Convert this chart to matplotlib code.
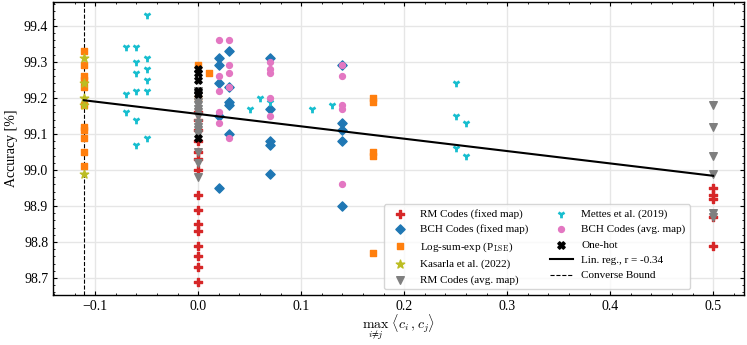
#!/usr/bin/env python3
# -*- coding: utf-8 -*-

import numpy as np
import matplotlib
matplotlib.use('Agg')
from matplotlib import pyplot as plt

# --- data ---
rm_fixed_x = [0, 0, 0, 0, 0, 0, 0, 0, 0, 0, 0, 0, 0, 0, 0, 0.5, 0.5, 0.5, 0.5, 0.5]
rm_fixed_y = [99.16, 99.14, 99.11, 99.08, 99.05, 99.03, 99.00, 98.93, 98.89, 98.85, 98.83, 98.79, 98.76, 98.73, 98.69,
              98.95, 98.93, 98.92, 98.87, 98.79]

bch_fixed_x = [0.02, 0.02, 0.02, 0.02, 0.02, 0.03, 0.03, 0.03, 0.03, 0.03,
               0.07, 0.07, 0.07, 0.07, 0.07, 0.14, 0.14, 0.14, 0.14, 0.14]
bch_fixed_y = [99.31, 99.29, 99.24, 99.15, 98.95, 99.33, 99.23, 99.19, 99.18, 99.10,
               99.31, 99.17, 99.08, 99.07, 98.99, 99.29, 99.13, 99.11, 99.08, 98.90]

lse_x = [-1/9, -1/9, -1/9, -1/9, -1/9, -1/9, -1/9, -1/9, -1/9, -1/9, -1/9,
         0, 0, 0.01, 0.17, 0.17, 0.17, 0.17, 0.17]
lse_y = [99.33, 99.29, 99.26, 99.25, 99.23, 99.18, 99.12, 99.11, 99.09, 99.05, 99.01,
         99.29, 99.20, 99.27, 99.20, 99.19, 99.05, 99.04, 98.77]

kasarla_x = [-1/9, -1/9, -1/9, -1/9, -1/9]
kasarla_y = [99.31, 99.24, 99.20, 99.18, 98.99]

rm_avg_x = [0, 0, 0, 0, 0, 0, 0, 0, 0, 0, 0, 0, 0, 0, 0.5, 0.5, 0.5, 0.5, 0.5, 0.5]
rm_avg_y = [99.22, 99.21, 99.19, 99.18, 99.17, 99.16, 99.15, 99.13, 99.12, 99.11, 99.10, 99.05, 99.02, 98.98,
            99.18, 99.12, 99.04, 98.99, 98.88, 98.87]

mettes_x = [-0.05, -0.07, -0.06, -0.06, -0.05, -0.06, -0.05, -0.05, -0.07, -0.06, -0.05, -0.07, -0.06, -0.05, -0.06,
            0.06, 0.05, 0.07, 0.11, 0.13, 0.25, 0.25, 0.26, 0.25, 0.26]
mettes_y = [99.43, 99.34, 99.34, 99.30, 99.31, 99.27, 99.28, 99.25, 99.21, 99.22, 99.22, 99.16, 99.14, 99.09, 99.07,
            99.20, 99.17, 99.19, 99.17, 99.18, 99.24, 99.15, 99.13, 99.06, 99.04]

bch_avg_x = [0.02, 0.02, 0.02, 0.02, 0.02, 0.03, 0.03, 0.03, 0.03, 0.03,
             0.07, 0.07, 0.07, 0.07, 0.07, 0.14, 0.14, 0.14, 0.14, 0.14]
bch_avg_y = [99.36, 99.26, 99.22, 99.16, 99.13, 99.36, 99.29, 99.27, 99.23, 99.09,
             99.30, 99.28, 99.27, 99.20, 99.15, 99.29, 99.26, 99.18, 99.17, 98.96]

onehot_x = [0, 0, 0, 0, 0, 0]
onehot_y = [99.28, 99.27, 99.25, 99.22, 99.21, 99.09]

converse_bound = -1/9


def main():
	plt.rcParams['font.family'] = 'serif'
	plt.rcParams['font.serif'] = ['Liberation Serif', 'DejaVu Serif']
	plt.rcParams['mathtext.fontset'] = 'cm'
	plt.rcParams['font.size'] = 10
	plt.rcParams['xtick.direction'] = 'in'
	plt.rcParams['ytick.direction'] = 'in'
	plt.rcParams['xtick.top'] = True
	plt.rcParams['ytick.right'] = True
	plt.rcParams['xtick.minor.visible'] = True
	plt.rcParams['ytick.minor.visible'] = True
	plt.rcParams['xtick.major.size'] = 3
	plt.rcParams['ytick.major.size'] = 3
	plt.rcParams['xtick.minor.size'] = 1.5
	plt.rcParams['ytick.minor.size'] = 1.5
	plt.rcParams['axes.linewidth'] = 1.0

	fig = plt.figure(figsize=(7.47, 3.45), dpi=100)
	ax = fig.add_axes([0.071, 0.145, 0.925, 0.849])

	ax.scatter(rm_fixed_x, rm_fixed_y, marker='P', s=28, color='tab:red', label='RM Codes (fixed map)', zorder=3)
	ax.scatter(bch_fixed_x, bch_fixed_y, marker='D', s=22, color='tab:blue', label='BCH Codes (fixed map)', zorder=3)
	ax.scatter(lse_x, lse_y, marker='s', s=22, color='tab:orange', label=r'Log-sum-exp (P$_{\rm LSE}$)', zorder=3)
	ax.scatter(kasarla_x, kasarla_y, marker='*', s=40, color='tab:olive', label='Kasarla et al. (2022)', zorder=3)
	ax.scatter(rm_avg_x, rm_avg_y, marker='v', s=30, color='tab:gray', label='RM Codes (avg. map)', zorder=3)
	ax.scatter(mettes_x, mettes_y, marker='1', s=30, linewidths=2, color='tab:cyan', label='Mettes et al. (2019)', zorder=3)
	ax.scatter(bch_avg_x, bch_avg_y, marker='o', s=18, color='tab:pink', label='BCH Codes (avg. map)', zorder=3)
	ax.scatter(onehot_x, onehot_y, marker='X', s=28, color='black', label='One-hot', zorder=3)

	# linear regression over all points
	all_x = np.concatenate([rm_fixed_x, bch_fixed_x, lse_x, kasarla_x, rm_avg_x, mettes_x, bch_avg_x, onehot_x])
	all_y = np.concatenate([rm_fixed_y, bch_fixed_y, lse_y, kasarla_y, rm_avg_y, mettes_y, bch_avg_y, onehot_y])
	k, m = np.polyfit(all_x, all_y, 1)
	xs = np.array([all_x.min(), all_x.max()])
	ax.plot(xs, k*xs + m, color='black', lw=1.5, label='Lin. reg., r = -0.34', zorder=4)

	ax.axvline(converse_bound, color='black', ls='--', lw=0.8, label='Converse Bound', zorder=2)

	ax.set_xlim(-0.141, 0.53)
	ax.set_ylim(98.653, 99.466)
	ax.set_xticks([-0.1, 0, 0.1, 0.2, 0.3, 0.4, 0.5])
	ax.set_xticklabels(['\u22120.1', '0.0', '0.1', '0.2', '0.3', '0.4', '0.5'])
	ax.set_yticks([98.7, 98.8, 98.9, 99.0, 99.1, 99.2, 99.3, 99.4])
	ax.grid(True, which='major', color='#e6e6e6', lw=1.0, zorder=0)
	ax.set_axisbelow(True)

	ax.set_xlabel(r'$\max_{i\neq j}\ \langle c_i, c_j \rangle$', labelpad=0)
	ax.set_ylabel('Accuracy [%]')

	ax.legend(ncol=2, fontsize=8, loc='lower right', bbox_to_anchor=(0.922, 0.02), borderaxespad=0)

	fig.savefig('out.png', dpi=100)

if __name__ == "__main__":
	main()
